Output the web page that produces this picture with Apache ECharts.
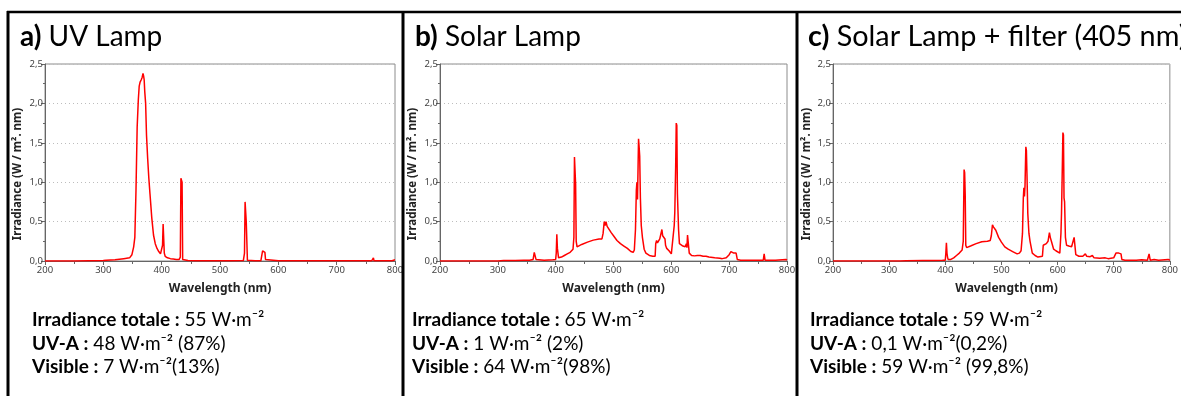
<!DOCTYPE html>
<html><head><meta charset="utf-8">
<script src="https://cdn.jsdelivr.net/npm/echarts@6/dist/echarts.min.js"></script>
<style>html,body{margin:0;padding:0;background:#fff}#c{width:1181px;height:396px}</style>
</head><body><div id="c"></div>
<script>
// ---- tick labels ----
const xTicks = [200, 300, 400, 500, 600, 700, 800];
const yTicks = [0, 0.5, 1.0, 1.5, 2.0, 2.5];

// ---- a) UV Lamp ----
const uvWl = [200, 250, 300, 305, 320, 335, 345, 349, 352, 354, 356, 358, 360, 361.5, 363, 365, 366.5, 368, 369, 370, 371, 372.5, 374, 376, 378, 380, 383, 386, 389, 392, 395, 398, 400.5, 401.5, 402.5, 403.5, 404.5, 406, 410, 415, 420, 425, 430, 432, 433, 434, 435, 436, 438, 445, 460, 480, 500, 520, 540, 542, 543, 544, 545, 547, 560, 570, 572, 573, 575, 577, 578, 580, 600, 610, 611, 612, 650, 700, 705, 706, 707, 740, 745, 746, 747, 750, 751, 752, 760, 762, 763, 764, 770, 772, 773, 780, 795, 796, 800];
const uvIrr = [0, 0, 0.005, 0.01, 0.015, 0.03, 0.04, 0.08, 0.18, 0.3, 0.9, 1.7, 2.05, 2.22, 2.27, 2.3, 2.33, 2.38, 2.35, 2.3, 2.15, 2.0, 1.6, 1.3, 1.05, 0.85, 0.55, 0.33, 0.22, 0.16, 0.12, 0.09, 0.08, 0.2, 0.47, 0.45, 0.1, 0.06, 0.04, 0.03, 0.025, 0.02, 0.02, 0.05, 1.05, 1.04, 1.0, 0.02, 0.01, 0.005, 0.003, 0.003, 0.003, 0.003, 0.005, 0.1, 0.75, 0.74, 0.5, 0.01, 0.003, 0.003, 0.02, 0.13, 0.12, 0.11, 0.02, 0.003, 0.003, 0.003, 0.012, 0.003, 0.003, 0.003, 0.003, 0.012, 0.003, 0.003, 0.003, 0.02, 0.003, 0.003, 0.02, 0.003, 0.003, 0.003, 0.04, 0.003, 0.003, 0.003, 0.02, 0.003, 0.003, 0.003, 0.015, 0.003];

// ---- b) Solar Lamp ----
const solarWl = [200, 300, 310, 330, 345, 355, 361, 363, 364.5, 366, 380, 395, 400, 401, 402, 403, 404, 405, 410, 415, 420, 425, 428, 430, 431.5, 432.5, 433.5, 434.5, 435.5, 437, 445, 455, 465, 475, 480, 482, 484, 485.5, 487, 489, 492, 496, 500, 506, 512, 518, 524, 530, 534, 536, 538, 539.5, 540.5, 541.5, 542.5, 543.3, 544.3, 545.3, 546.5, 548, 550, 553, 556, 562, 568, 572, 573, 574.5, 576, 578, 580, 582, 583.7, 585, 587, 589, 590, 592, 594, 596, 598, 600, 603, 605, 606, 607.5, 608.5, 609.5, 610.5, 611.5, 612.5, 614, 616, 620, 624, 626, 627, 628, 629.5, 631, 635, 640, 645, 647, 650, 655, 660, 662, 665, 675, 684, 686, 688, 695, 700, 703, 706, 708, 710, 712, 714, 720, 735, 737, 740, 750, 752, 755, 759, 760.5, 762, 770, 772, 780, 798, 800];
const solarIrr = [0, 0, 0.005, 0.005, 0.01, 0.01, 0.02, 0.11, 0.1, 0.02, 0.01, 0.015, 0.02, 0.1, 0.34, 0.16, 0.15, 0.04, 0.05, 0.07, 0.09, 0.11, 0.13, 0.15, 0.3, 1.32, 1.3, 0.97, 0.25, 0.18, 0.21, 0.24, 0.265, 0.28, 0.28, 0.35, 0.5, 0.45, 0.5, 0.44, 0.42, 0.36, 0.32, 0.26, 0.22, 0.19, 0.16, 0.12, 0.11, 0.14, 0.4, 0.9, 1.0, 0.78, 1.2, 1.55, 1.45, 1.33, 0.8, 0.45, 0.3, 0.15, 0.1, 0.07, 0.06, 0.06, 0.22, 0.26, 0.23, 0.25, 0.28, 0.3, 0.4, 0.32, 0.3, 0.28, 0.2, 0.16, 0.17, 0.13, 0.15, 0.09, 0.1, 0.45, 0.62, 1.2, 1.75, 1.72, 0.86, 0.85, 0.4, 0.22, 0.2, 0.19, 0.18, 0.22, 0.17, 0.33, 0.32, 0.1, 0.07, 0.065, 0.07, 0.09, 0.07, 0.06, 0.06, 0.07, 0.05, 0.04, 0.035, 0.05, 0.03, 0.04, 0.08, 0.12, 0.13, 0.1, 0.11, 0.1, 0.02, 0.01, 0.01, 0.02, 0.01, 0.01, 0.02, 0.01, 0.01, 0.09, 0.01, 0.01, 0.02, 0.01, 0.02, 0.01];

// ---- c) Solar Lamp + filter (405 nm) ----
const filterWl = [200, 320, 330, 360, 380, 395, 400, 401, 402, 403, 404, 405, 410, 415, 420, 425, 430, 432, 433.5, 434.5, 435.5, 436.5, 438, 445, 455, 465, 475, 480, 482, 484, 486, 488, 490, 495, 500, 506, 512, 520, 528, 532, 535, 537.5, 539, 540, 541, 542, 543.5, 544.5, 545.5, 547, 549, 551, 555, 560, 565, 573, 574.5, 576, 578, 580, 583, 585.5, 587, 589, 591, 593, 595, 597, 600, 604, 606, 607, 608.5, 609.5, 610.5, 611.5, 612.5, 614, 616, 620, 625, 627, 628, 629.5, 631, 632.5, 638, 645, 649.5, 652, 658, 662, 665, 675, 685, 687, 690, 700, 704, 707, 709, 711, 713, 714.5, 720, 740, 750, 752, 760, 763, 765, 772, 780, 797, 800];
const filterIrr = [0, 0, 0.003, 0.005, 0.005, 0.008, 0.01, 0.1, 0.23, 0.1, 0.05, 0.02, 0.02, 0.04, 0.07, 0.1, 0.14, 0.25, 1.16, 1.12, 0.84, 0.2, 0.17, 0.19, 0.22, 0.245, 0.25, 0.26, 0.32, 0.46, 0.43, 0.44, 0.39, 0.3, 0.24, 0.18, 0.15, 0.12, 0.09, 0.1, 0.13, 0.35, 0.8, 0.93, 0.82, 0.95, 1.45, 1.4, 1.1, 0.6, 0.35, 0.25, 0.1, 0.07, 0.05, 0.06, 0.2, 0.22, 0.2, 0.22, 0.25, 0.36, 0.3, 0.25, 0.27, 0.15, 0.17, 0.13, 0.11, 0.1, 0.35, 0.6, 1.2, 1.63, 1.6, 0.8, 0.75, 0.3, 0.2, 0.19, 0.18, 0.2, 0.16, 0.3, 0.28, 0.08, 0.06, 0.06, 0.09, 0.06, 0.055, 0.07, 0.04, 0.035, 0.04, 0.05, 0.03, 0.04, 0.1, 0.12, 0.1, 0.11, 0.09, 0.02, 0.01, 0.01, 0.015, 0.02, 0.01, 0.09, 0.01, 0.02, 0.01, 0.02, 0.01];

const titles = [['a)', ' UV Lamp'], ['b)', ' Solar Lamp'], ['c)', ' Solar Lamp + filter (405 nm)']];
const infoLines = [
  [['Irradiance totale :', ' 55 W·m⁻²'], ['UV-A :', ' 48 W·m⁻² (87%)'], ['Visible :', ' 7 W·m⁻²(13%)']],
  [['Irradiance totale :', ' 65 W·m⁻²'], ['UV-A :', ' 1 W·m⁻² (2%)'], ['Visible :', ' 64 W·m⁻²(98%)']],
  [['Irradiance totale :', ' 59 W·m⁻²'], ['UV-A :', ' 0,1 W·m⁻²(0,2%)'], ['Visible :', ' 59 W·m⁻² (99,8%)']]
];
const xName = 'Wavelength (nm)';
const yName = 'Irradiance (W / m². nm)';

const zip = (a, b) => a.map((v, i) => [v, b[i]]);
const seriesData = [zip(uvWl, uvIrr), zip(solarWl, solarIrr), zip(filterWl, filterIrr)];

const grids = [
  { left: 45, top: 64, width: 350, height: 197 },
  { left: 440, top: 64, width: 347, height: 197 },
  { left: 833, top: 64, width: 347, height: 197 }
];
const panelX = [8, 403, 797];      // panel borders
const titleX = [20, 415, 808];
const titleSize = [28, 28, 28.8];
const textX = [32, 412, 810];

const fmt = v => v.toFixed(1).replace('.', ',');
const tickFont = { fontFamily: 'Noto Sans', fontSize: 9.5, color: '#444' };

const option = {
  animation: false,
  backgroundColor: '#fff',
  grid: grids.map(g => Object.assign({ show: true, borderColor: '#8c8c8c', borderWidth: 1, backgroundColor: 'transparent' }, g)),
  xAxis: grids.map((g, i) => ({
    type: 'value', gridIndex: i,
    min: xTicks[0], max: xTicks[xTicks.length - 1], interval: xTicks[1] - xTicks[0],
    axisLine: { show: true, lineStyle: { color: '#666', width: 1 } },
    axisTick: { show: true, length: 4, lineStyle: { color: '#666' } },
    minorTick: { show: true, splitNumber: 2, length: 3, lineStyle: { color: '#666' } },
    splitLine: { show: false },
    axisLabel: Object.assign({ margin: 4, formatter: v => String(v) }, tickFont)
  })),
  yAxis: grids.map((g, i) => ({
    type: 'value', gridIndex: i,
    min: yTicks[0], max: yTicks[yTicks.length - 1], interval: yTicks[1] - yTicks[0],
    axisLine: { show: true, lineStyle: { color: '#666', width: 1 } },
    axisTick: { show: true, length: 4, lineStyle: { color: '#666' } },
    minorTick: { show: true, splitNumber: 2, length: 2, lineStyle: { color: '#666' } },
    splitLine: { show: true, lineStyle: { color: '#bdbdbd', type: [1, 3], width: 1 } },
    axisLabel: Object.assign({ margin: 2, formatter: fmt }, tickFont)
  })),
  series: seriesData.map((d, i) => ({
    type: 'line', xAxisIndex: i, yAxisIndex: i, data: d,
    showSymbol: false, symbol: 'none', sampling: null,
    lineStyle: { color: '#ff0000', width: 1.5 }
  })),
  graphic: []
};

const G = option.graphic;
// panel frame lines
G.push({ type: 'line', shape: { x1: 7, y1: 12, x2: 1181, y2: 12 }, style: { stroke: '#000', lineWidth: 2.5 }, z: 100 });
panelX.forEach(x => G.push({ type: 'line', shape: { x1: x, y1: 11, x2: x, y2: 396 }, style: { stroke: '#000', lineWidth: 3 }, z: 100 }));

titles.forEach((t, i) => {
  G.push({
    type: 'text', x: titleX[i], y: 37, z: 100,
    style: {
      text: '{b|' + t[0] + '}{r|' + t[1] + '}',
      rich: {
        b: { fontFamily: 'Lato', fontWeight: 'bold', fontSize: titleSize[i], fill: '#000' },
        r: { fontFamily: 'Lato', fontSize: titleSize[i], fill: '#000' }
      },
      verticalAlign: 'middle', align: 'left'
    }
  });
});

const lineY = [320, 343.5, 367];
infoLines.forEach((lines, i) => {
  lines.forEach((l, j) => {
    G.push({
      type: 'text', x: textX[i], y: lineY[j], z: 100,
      style: {
        text: '{b|' + l[0] + '}{r|' + l[1] + '}',
        rich: {
          b: { fontFamily: 'Lato', fontWeight: 'bold', fontSize: 19, fill: '#000' },
          r: { fontFamily: 'Lato', fontSize: 19, fill: '#000' }
        },
        verticalAlign: 'middle', align: 'left'
      }
    });
  });
});

grids.forEach((g, i) => {
  G.push({
    type: 'text', x: g.left + g.width / 2, y: 289, z: 100,
    style: { text: xName, fontFamily: 'Noto Sans', fontWeight: 'bold', fontSize: 12, fill: '#222', align: 'center', verticalAlign: 'middle' }
  });
  G.push({
    type: 'text', x: panelX[i] + 10, y: 174, rotation: Math.PI / 2, z: 100,
    style: { text: yName, fontFamily: 'Noto Sans', fontWeight: 'bold', fontSize: 11.5, fill: '#222', align: 'center', verticalAlign: 'middle' }
  });
});

const chart = echarts.init(document.getElementById('c'), null, { renderer: 'canvas' });
chart.setOption(option);
</script>
</body></html>
